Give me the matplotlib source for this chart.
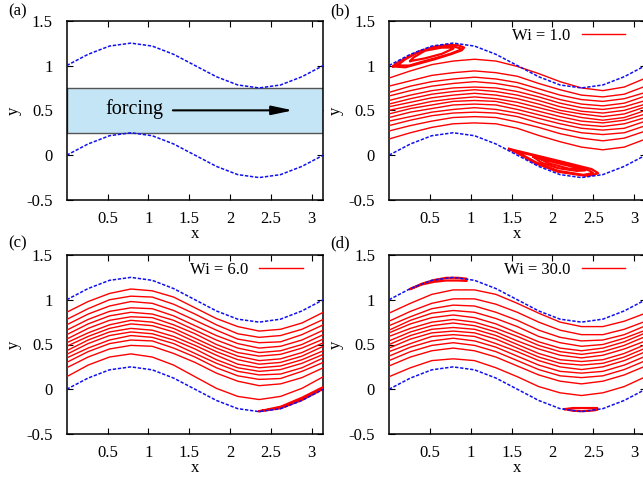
import matplotlib
matplotlib.use('Agg')
import matplotlib.pyplot as plt
from matplotlib.patches import Rectangle

plt.rcParams['font.family'] = ['Liberation Serif', 'DejaVu Serif']
plt.rcParams['axes.unicode_minus'] = False

# ---------------- data ----------------
x_pts = [0.0, 0.2618, 0.5236, 0.7854, 1.0472, 1.3090, 1.5708,
         1.8326, 2.0944, 2.3562, 2.6180, 2.8798, 3.1416]

wall_lower = [0.0, 0.125, 0.217, 0.25, 0.217, 0.125, 0.0,
              -0.125, -0.217, -0.25, -0.217, -0.125, 0.0]
wall_upper = [1.0, 1.125, 1.217, 1.25, 1.217, 1.125, 1.0,
              0.875, 0.783, 0.75, 0.783, 0.875, 1.0]

xticks = [0.5, 1.0, 1.5, 2.0, 2.5, 3.0]
xtick_labels = ['0.5', '1', '1.5', '2', '2.5', '3']
yticks = [-0.5, 0.0, 0.5, 1.0, 1.5]
ytick_labels = ['-0.5', '0', '0.5', '1', '1.5']

forcing_band = [0.25, 0.75]          # y-range of forcing region
forcing_arrow_x = [1.30, 2.77]
forcing_arrow_y = 0.5

wi_labels = ['Wi = 1.0', 'Wi = 6.0', 'Wi = 30.0']
panel_letters = ['(a)', '(b)', '(c)', '(d)']

# streamlines, Wi = 1.0  (panel b)
stream_b = [
    [0.86, 0.94, 1.01, 1.05, 1.07, 1.05, 0.99, 0.91, 0.82, 0.75, 0.72, 0.76, 0.86],
    [0.77, 0.83, 0.89, 0.92, 0.94, 0.92, 0.88, 0.80, 0.73, 0.67, 0.65, 0.68, 0.77],
    [0.70, 0.77, 0.82, 0.85, 0.87, 0.85, 0.81, 0.74, 0.67, 0.62, 0.60, 0.63, 0.70],
    [0.66, 0.72, 0.77, 0.80, 0.82, 0.80, 0.76, 0.69, 0.62, 0.57, 0.55, 0.58, 0.66],
    [0.61, 0.67, 0.72, 0.75, 0.76, 0.75, 0.71, 0.65, 0.58, 0.53, 0.51, 0.54, 0.61],
    [0.57, 0.63, 0.68, 0.71, 0.73, 0.71, 0.67, 0.61, 0.54, 0.49, 0.47, 0.50, 0.57],
    [0.54, 0.59, 0.64, 0.67, 0.69, 0.67, 0.63, 0.57, 0.50, 0.46, 0.43, 0.46, 0.54],
    [0.50, 0.55, 0.60, 0.63, 0.65, 0.63, 0.59, 0.53, 0.47, 0.42, 0.39, 0.42, 0.50],
    [0.46, 0.52, 0.56, 0.60, 0.61, 0.60, 0.55, 0.49, 0.43, 0.38, 0.36, 0.39, 0.46],
    [0.42, 0.48, 0.52, 0.56, 0.57, 0.56, 0.51, 0.45, 0.39, 0.34, 0.32, 0.35, 0.42],
    [0.38, 0.43, 0.48, 0.51, 0.53, 0.51, 0.47, 0.41, 0.35, 0.30, 0.28, 0.30, 0.38],
    [0.33, 0.39, 0.44, 0.47, 0.48, 0.47, 0.43, 0.36, 0.30, 0.25, 0.23, 0.25, 0.33],
    [0.27, 0.33, 0.38, 0.42, 0.43, 0.42, 0.37, 0.31, 0.24, 0.19, 0.16, 0.19, 0.27],
    [0.18, 0.25, 0.31, 0.35, 0.36, 0.35, 0.30, 0.22, 0.15, 0.09, 0.06, 0.09, 0.18],
]

# recirculation loops, Wi = 1.0 (x list, y list per loop)
vortex_b = [
    ([0.05, 0.20, 0.36, 0.56, 0.77, 0.89, 0.92, 0.85, 0.72, 0.56, 0.36, 0.20, 0.08, 0.05],
     [0.99, 0.98, 1.02, 1.07, 1.13, 1.17, 1.20, 1.225, 1.23, 1.21, 1.155, 1.08, 1.02, 0.99]),
    ([0.10, 0.25, 0.40, 0.56, 0.75, 0.86, 0.88, 0.80, 0.66, 0.50, 0.34, 0.20, 0.10],
     [1.00, 1.00, 1.04, 1.08, 1.13, 1.17, 1.19, 1.21, 1.21, 1.19, 1.14, 1.07, 1.00]),
    ([0.26, 0.44, 0.645, 0.79, 0.75, 0.645, 0.44, 0.30, 0.26],
     [1.05, 1.08, 1.13, 1.19, 1.20, 1.20, 1.165, 1.09, 1.05]),
    ([1.47, 1.79, 2.15, 2.48, 2.56, 2.50, 2.40, 2.07, 1.79, 1.58, 1.47],
     [0.07, 0.00, -0.08, -0.155, -0.20, -0.22, -0.23, -0.185, -0.09, 0.02, 0.07]),
    ([1.52, 1.80, 2.15, 2.45, 2.50, 2.38, 2.07, 1.80, 1.60, 1.52],
     [0.05, -0.01, -0.09, -0.17, -0.20, -0.22, -0.175, -0.08, 0.02, 0.05]),
    ([1.77, 1.90, 2.07, 2.25, 2.40, 2.30, 2.07, 1.87, 1.77],
     [-0.02, -0.04, -0.07, -0.11, -0.17, -0.175, -0.145, -0.085, -0.02]),
    ([1.85, 2.07, 2.30, 2.36, 2.20, 1.95, 1.85],
     [-0.04, -0.09, -0.14, -0.165, -0.15, -0.09, -0.04]),
]

# streamlines, Wi = 6.0  (panel c)
stream_c = [
    [0.86, 0.98, 1.07, 1.12, 1.10, 1.03, 0.91, 0.79, 0.70, 0.65, 0.67, 0.74, 0.86],
    [0.78, 0.90, 1.00, 1.04, 1.03, 0.95, 0.84, 0.72, 0.62, 0.58, 0.60, 0.67, 0.78],
    [0.72, 0.84, 0.93, 0.98, 0.96, 0.88, 0.77, 0.66, 0.56, 0.52, 0.53, 0.61, 0.72],
    [0.66, 0.78, 0.87, 0.91, 0.90, 0.82, 0.71, 0.60, 0.51, 0.46, 0.48, 0.55, 0.66],
    [0.61, 0.73, 0.82, 0.86, 0.84, 0.77, 0.66, 0.55, 0.46, 0.41, 0.43, 0.50, 0.61],
    [0.56, 0.68, 0.77, 0.81, 0.80, 0.72, 0.62, 0.50, 0.41, 0.37, 0.39, 0.46, 0.56],
    [0.52, 0.63, 0.72, 0.77, 0.75, 0.68, 0.57, 0.46, 0.37, 0.32, 0.34, 0.41, 0.52],
    [0.48, 0.59, 0.68, 0.73, 0.71, 0.64, 0.53, 0.42, 0.33, 0.28, 0.30, 0.37, 0.48],
    [0.43, 0.55, 0.64, 0.68, 0.66, 0.59, 0.49, 0.38, 0.28, 0.24, 0.26, 0.33, 0.43],
    [0.39, 0.51, 0.60, 0.64, 0.62, 0.55, 0.45, 0.33, 0.24, 0.20, 0.22, 0.29, 0.39],
    [0.35, 0.46, 0.55, 0.60, 0.58, 0.51, 0.40, 0.29, 0.20, 0.16, 0.17, 0.24, 0.35],
    [0.30, 0.42, 0.51, 0.55, 0.54, 0.46, 0.36, 0.24, 0.15, 0.11, 0.12, 0.20, 0.30],
    [0.24, 0.36, 0.45, 0.49, 0.48, 0.40, 0.30, 0.18, 0.09, 0.04, 0.06, 0.13, 0.24],
    [0.14, 0.27, 0.36, 0.395, 0.36, 0.27, 0.14, 0.01, -0.08, -0.115, -0.08, 0.01, 0.14],
]

vortex_c = [
    ([2.36, 2.62, 2.88, 3.1416, 3.1416, 2.88, 2.62, 2.36],
     [-0.245, -0.212, -0.12, 0.005, 0.025, -0.095, -0.195, -0.245]),
]

# streamlines, Wi = 30.0  (panel d)
stream_d = [
    [0.85, 0.96, 1.06, 1.11, 1.11, 1.06, 0.96, 0.85, 0.75, 0.70, 0.70, 0.76, 0.85],
    [0.76, 0.87, 0.96, 1.01, 1.01, 0.95, 0.86, 0.75, 0.66, 0.61, 0.61, 0.67, 0.76],
    [0.71, 0.81, 0.90, 0.94, 0.93, 0.86, 0.77, 0.66, 0.58, 0.54, 0.55, 0.61, 0.71],
    [0.66, 0.77, 0.85, 0.88, 0.86, 0.79, 0.70, 0.59, 0.52, 0.48, 0.50, 0.57, 0.66],
    [0.63, 0.73, 0.80, 0.83, 0.80, 0.73, 0.63, 0.53, 0.46, 0.43, 0.46, 0.53, 0.63],
    [0.59, 0.68, 0.75, 0.78, 0.75, 0.68, 0.59, 0.49, 0.42, 0.39, 0.42, 0.49, 0.59],
    [0.54, 0.64, 0.71, 0.74, 0.71, 0.64, 0.54, 0.45, 0.38, 0.35, 0.38, 0.45, 0.54],
    [0.50, 0.60, 0.67, 0.69, 0.67, 0.60, 0.50, 0.40, 0.33, 0.31, 0.33, 0.40, 0.50],
    [0.46, 0.56, 0.63, 0.65, 0.63, 0.56, 0.46, 0.36, 0.29, 0.27, 0.29, 0.36, 0.46],
    [0.42, 0.51, 0.59, 0.61, 0.59, 0.51, 0.42, 0.32, 0.25, 0.22, 0.25, 0.32, 0.42],
    [0.37, 0.47, 0.54, 0.57, 0.54, 0.47, 0.37, 0.27, 0.20, 0.18, 0.20, 0.27, 0.37],
    [0.32, 0.42, 0.49, 0.52, 0.49, 0.42, 0.32, 0.22, 0.15, 0.13, 0.15, 0.22, 0.32],
    [0.26, 0.36, 0.43, 0.46, 0.43, 0.36, 0.26, 0.16, 0.09, 0.06, 0.09, 0.16, 0.26],
    [0.14, 0.24, 0.32, 0.34, 0.32, 0.24, 0.14, 0.03, -0.04, -0.07, -0.04, 0.03, 0.14],
]

vortex_d = [
    ([0.26, 0.40, 0.55, 0.70, 0.85, 0.95, 0.95, 0.85, 0.70, 0.55, 0.40, 0.26],
     [1.12, 1.17, 1.20, 1.215, 1.215, 1.21, 1.235, 1.245, 1.245, 1.22, 1.178, 1.12]),
    ([2.15, 2.25, 2.36, 2.47, 2.55, 2.55, 2.47, 2.36, 2.25, 2.15],
     [-0.222, -0.24, -0.245, -0.24, -0.23, -0.21, -0.21, -0.21, -0.21, -0.222]),
]

# ---------------- figure ----------------
W, H = 643, 478
FS = 12
fig = plt.figure(figsize=(W / 100, H / 100), dpi=100)

def px_axes(left, top, right, bottom):
    return fig.add_axes([left / W, 1 - bottom / H, (right - left) / W, (bottom - top) / H])

ax_a = px_axes(66.7, 20.7, 323.3, 200.0)
ax_b = px_axes(389.0, 20.7, 645.6, 200.0)
ax_c = px_axes(66.7, 255.0, 323.3, 434.0)
ax_d = px_axes(389.0, 255.0, 645.6, 434.0)
axes = [ax_a, ax_b, ax_c, ax_d]

RED = '#ff0000'
BLUE = '#1010f0'

for ax in axes:
    ax.set_xlim(0, 3.14159)
    ax.set_ylim(-0.5, 1.5)
    ax.set_xticks(xticks)
    ax.set_xticklabels(xtick_labels)
    ax.set_yticks(yticks)
    ax.set_yticklabels(ytick_labels)
    ax.tick_params(direction='in', top=True, right=True, length=4, width=0.8,
                   labelsize=FS, colors='black')
    ax.tick_params(axis='y', pad=10)
    ax.tick_params(axis='x', pad=8)
    for s in ax.spines.values():
        s.set_linewidth(1.1)
    ax.set_xlabel('x', fontsize=FS)
    ax.set_ylabel('y', fontsize=FS)
    ax.xaxis.set_label_coords(0.5, -0.145)
    ax.yaxis.set_label_coords(-0.175, 0.5)
    ax.plot(x_pts, wall_lower, color=BLUE, lw=1.1, ls=(0, (2.2, 1.1)), zorder=4)
    ax.plot(x_pts, wall_upper, color=BLUE, lw=1.1, ls=(0, (2.2, 1.1)), zorder=4)

# panel (a)
ax_a.add_patch(Rectangle((0, forcing_band[0]), 3.14159, forcing_band[1] - forcing_band[0],
                         facecolor='#c4e5f6', edgecolor='#555555', lw=1.0, zorder=2))
ax_a.text(0.47, 0.52, 'forcing', fontsize=14.5, va='center', ha='left', zorder=5)
ax_a.annotate('', xy=(forcing_arrow_x[1], forcing_arrow_y),
              xytext=(forcing_arrow_x[0], forcing_arrow_y),
              arrowprops=dict(arrowstyle='-|>,head_length=0.8,head_width=0.17',
                              color='black', lw=1.5, mutation_scale=16,
                              shrinkA=0, shrinkB=0), zorder=5)

def draw_panel(ax, streams, vortices, label):
    for i, ys in enumerate(streams):
        ax.plot(x_pts, ys, color=RED, lw=1.0, zorder=3,
                label=label if i == 0 else None)
    for vx, vy in vortices:
        ax.plot(vx, vy, color=RED, lw=1.6, zorder=3, solid_joinstyle='round')
    ax.legend(loc='upper right', bbox_to_anchor=(0.92, 0.962), markerfirst=False,
              frameon=False, handlelength=2.6, handletextpad=0.7, borderpad=0,
              borderaxespad=0, fontsize=FS)

draw_panel(ax_b, stream_b, vortex_b, wi_labels[0])
draw_panel(ax_c, stream_c, vortex_c, wi_labels[1])
draw_panel(ax_d, stream_d, vortex_d, wi_labels[2])

# panel letters
fig.text(8 / W, 1 - 11.5 / H, panel_letters[0], fontsize=FS, va='center', ha='left')
fig.text(330 / W, 1 - 11.5 / H, panel_letters[1], fontsize=FS, va='center', ha='left')
fig.text(8 / W, 1 - 243 / H, panel_letters[2], fontsize=FS, va='center', ha='left')
fig.text(330 / W, 1 - 243 / H, panel_letters[3], fontsize=FS, va='center', ha='left')

fig.savefig('out.png', dpi=100)
